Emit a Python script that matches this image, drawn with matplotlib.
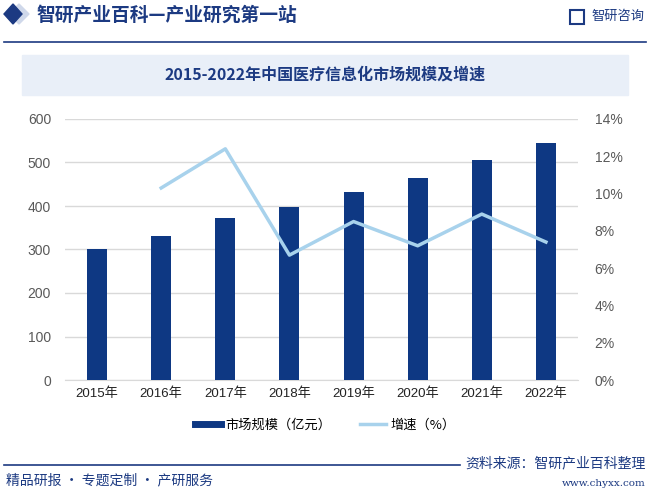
import matplotlib
matplotlib.use('Agg')
import matplotlib.pyplot as plt
from matplotlib.patches import Rectangle, Polygon
from matplotlib.lines import Line2D
from matplotlib.ticker import FuncFormatter

plt.rcParams['font.family'] = ['Noto Sans CJK SC', 'DejaVu Sans']
plt.rcParams['axes.unicode_minus'] = False

# 数据
years = ['2015年', '2016年', '2017年', '2018年', '2019年', '2020年', '2021年', '2022年']
market_size = [301, 331, 372, 398, 432, 464, 506, 545]   # 亿元
growth = [None, 10.3, 12.4, 6.7, 8.5, 7.2, 8.9, 7.4]      # %

bar_color = '#0e3883'
line_color = '#a8d2ec'
navy = '#1c3a82'
tick_font = ['Liberation Sans', 'Noto Sans CJK SC']
W, H = 650, 493


def fx(px):
    return px / W


def fy(py):
    return 1 - py / H


fig = plt.figure(figsize=(6.5, 4.93), dpi=100, facecolor='white')

# 页眉
fig.patches.append(Polygon([(fx(9), fy(14)), (fx(19), fy(4)), (fx(29), fy(14)), (fx(19), fy(24))],
                           closed=True, transform=fig.transFigure, color='#cfd8ea'))
fig.patches.append(Polygon([(fx(4), fy(14)), (fx(13), fy(4)), (fx(22), fy(14)), (fx(13), fy(24))],
                           closed=True, transform=fig.transFigure, color=navy))
fig.text(fx(36), fy(15), '智研产业百科—产业研究第一站', fontsize=13.5, fontweight='bold',
         color=navy, va='center', ha='left')
fig.patches.append(Rectangle((fx(570), fy(24)), fx(14), 14 / H, transform=fig.transFigure,
                             color=navy, fill=False, lw=1.5))
fig.text(fx(644), fy(16), '智研咨询', fontsize=9.5, color=navy, va='center', ha='right')
fig.add_artist(Line2D([fx(4), fx(646)], [fy(42), fy(42)], color=navy, lw=1.2))

# 标题框
fig.patches.append(Rectangle((fx(22), fy(95)), fx(606), 40 / H,
                             transform=fig.transFigure, color='#e9eff8', zorder=0))
fig.text(0.5, fy(75), '2015-2022年中国医疗信息化市场规模及增速', fontsize=11.5, fontweight='bold',
         color=navy, va='center', ha='center')

# 主图
ax = fig.add_axes([fx(65), fy(380), fx(513), 261 / H])
ax.set_facecolor('none')
x = range(len(years))
ax.bar(x, market_size, width=0.31, color=bar_color, zorder=3)
ax.set_xlim(-0.5, len(years) - 0.5)
ax.set_ylim(0, 600)
ax.set_yticks(range(0, 601, 100))
ax.set_xticks(list(x))
ax.set_xticklabels(years, fontsize=9.5, color='#222222', family=tick_font)
for t in ax.get_yticklabels():
    t.set_family(tick_font)
ax.tick_params(axis='y', labelsize=10, colors='#595959', length=0, pad=10)
ax.tick_params(axis='x', length=0, pad=5)
ax.grid(axis='y', color='#d9d9d9', lw=1, zorder=0)
for s in ['top', 'right', 'left']:
    ax.spines[s].set_visible(False)
ax.spines['bottom'].set_color('#d9d9d9')

ax2 = ax.twinx()
gx = [i for i, g in enumerate(growth) if g is not None]
gy = [g for g in growth if g is not None]
ax2.plot(gx, gy, color=line_color, lw=2.5, zorder=4)
ax2.set_ylim(0, 14)
ax2.set_yticks(range(0, 15, 2))
ax2.yaxis.set_major_formatter(FuncFormatter(lambda v, p: f'{int(v)}%'))
ax2.tick_params(axis='y', labelsize=10, colors='#595959', length=0, pad=12)
for t in ax2.get_yticklabels():
    t.set_family(tick_font)
for s in ax2.spines.values():
    s.set_visible(False)

# 图例
handles = [Line2D([], [], color=bar_color, lw=5), Line2D([], [], color=line_color, lw=2.5)]
fig.legend(handles, ['市场规模（亿元）', '增速（%）'], loc='center', bbox_to_anchor=(fx(325), fy(425)),
           ncol=2, frameon=False, fontsize=9.5, handlelength=2.0, columnspacing=2.2, handletextpad=0.3)

# 页脚
fig.add_artist(Line2D([fx(4), fx(460)], [fy(465), fy(465)], color=navy, lw=1.2))
fig.text(fx(6), fy(480), '精品研报 · 专题定制 · 产研服务', fontsize=10, color=navy, va='center')
fig.text(fx(646), fy(463), '资料来源：智研产业百科整理', fontsize=10, color=navy, va='center', ha='right')
fig.text(fx(646), fy(483), 'www.chyxx.com', fontsize=7.5, color=navy, va='center', ha='right',
         family='DejaVu Serif')

fig.savefig('out.png', dpi=100, facecolor='white')
